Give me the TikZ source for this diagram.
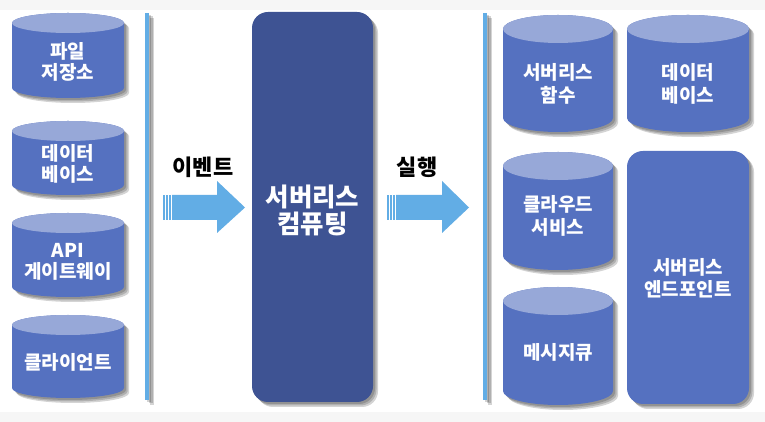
\documentclass[tikz,border=0pt]{standalone}
\usepackage{fontspec}
\newfontfamily\kr{Noto Sans CJK KR}
\usetikzlibrary{calc}
\definecolor{cylbody}{HTML}{5571C0}
\definecolor{cyltop}{HTML}{97A8D8}
\definecolor{coreblue}{HTML}{3E5393}
\definecolor{lightblue}{HTML}{62ADE5}
\definecolor{bgray}{HTML}{F6F6F6}
\tikzset{
  shadowfill/.style={fill=black,opacity=0.17},
  cyltext/.style={text=white,font=\kr\bfseries\fontsize{19}{21.5}\selectfont,align=center,inner sep=0pt},
  cyltextr/.style={cyltext,font=\kr\bfseries\fontsize{19}{23.5}\selectfont},
  coretext/.style={text=white,font=\kr\bfseries\fontsize{25.5}{27}\selectfont,align=center,inner sep=0pt},
  labeltext/.style={text=black,font=\kr\bfseries\fontsize{22}{24}\selectfont,inner sep=0pt},
  arrowfill/.style={fill=lightblue},
}
\newcommand\cylpath[5]{(#1,#3-#5) -- (#1,#4+#5) arc[start angle=180,end angle=360,x radius={(#2-#1)/2},y radius=#5] -- (#2,#3-#5) arc[start angle=0,end angle=180,x radius={(#2-#1)/2},y radius=#5] -- cycle}
\newcommand\mycyl[9]{%
  \foreach \d in {2,3.5,5}{\begin{scope}[shift={(\d,-\d)}]\fill[shadowfill] \cylpath{#2}{#3}{#4}{#5}{#6};\end{scope}}
  \fill[cylbody] \cylpath{#2}{#3}{#4}{#5}{#6};
  \fill[cyltop] ({(#2+#3)/2},#4-#6) ellipse[x radius={(#3-#2)/2},y radius=#6];
  \node[#9] (#1) at ({(#2+#3)/2},#7) {#8};
}
\newcommand\myarrow[3]{% x start, x head, x tip
  \foreach \s in {0,3,6}{\fill[arrowfill] (#1+\s,202) rectangle (#1+\s+1.5,227);}
  \fill[arrowfill] (#1+9,202) -- (#2,202) -- (#2,189) -- (#3,214.5) -- (#2,241) -- (#2,227) -- (#1+9,227) -- cycle;
}
\begin{document}
\begin{tikzpicture}[x=1pt,y=1pt]
\useasboundingbox (0,0) rectangle (765,422);
\fill[bgray] (0,0) rectangle (765,422);
\fill[white] (0,10) rectangle (765,412);
% left column
\mycyl{file}{12}{124}{409}{324}{10}{360}{파일\\저장소}{cyltext}
\mycyl{dbl}{12}{124}{301}{227}{10}{258}{데이터\\베이스}{cyltext}
\mycyl{api}{12}{124}{209}{125}{10}{160}{API\\게이트웨이}{cyltext}
\mycyl{client}{12}{124}{107}{24}{10}{60}{클라이언트}{cyltext}
% left bar
\foreach \d in {2,3.5,5}{\fill[shadowfill] (145+\d,409-\d) rectangle (149+\d,22-\d);}
\fill[lightblue] (145,409) rectangle (149,22);
% center
\foreach \d in {2,3.5,5}{\fill[shadowfill,rounded corners=16pt] (252+\d,410-\d) rectangle (373+\d,20-\d);}
\fill[coreblue,rounded corners=16pt] (252,410) rectangle (373,20);
\node[coretext] (core) at (312.5,212) {서버리스\\컴퓨팅};
% arrows
\myarrow{163}{217}{245}
\node[labeltext] (event) at (203,255) {이벤트};
\myarrow{387}{442}{469}
\node[labeltext] (exec) at (417,255) {실행};
% right bar
\foreach \d in {2,3.5,5}{\fill[shadowfill] (483+\d,409-\d) rectangle (487+\d,22-\d);}
\fill[lightblue] (483,409) rectangle (487,22);
% right column
\mycyl{func}{503}{613}{407}{290}{14}{338}{서버리스\\함수}{cyltextr}
\mycyl{dbr}{627}{749}{407}{290}{14}{338}{데이터\\베이스}{cyltextr}
\mycyl{cloud}{503}{613}{270}{152}{14}{206}{클라우드\\서비스}{cyltextr}
\mycyl{mq}{503}{613}{135}{17}{14}{70}{메시지큐}{cyltextr}
\foreach \d in {2,3.5,5}{\fill[shadowfill,rounded corners=16pt] (627+\d,271-\d) rectangle (749+\d,18-\d);}
\fill[cylbody,rounded corners=16pt] (627,271) rectangle (749,18);
\node[cyltext] (endpoint) at (688,144) {서버리스\\엔드포인트};
\end{tikzpicture}
\end{document}
